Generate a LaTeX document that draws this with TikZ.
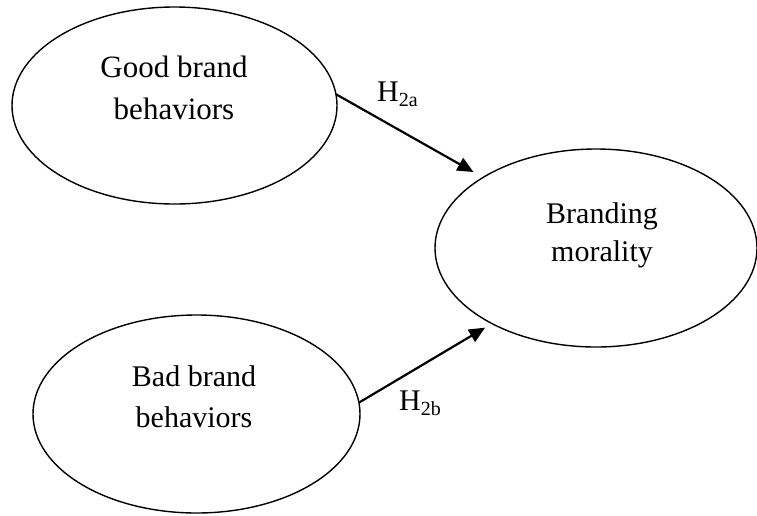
\documentclass[tikz,border=0pt]{standalone}
\usepackage{fontspec}
\setmainfont{Liberation Serif}
\usetikzlibrary{shapes.geometric,arrows.meta}
\begin{document}
\begin{tikzpicture}[x=1pt,y=-1pt,
  oval/.style={ellipse,draw,line width=1.4pt,inner sep=0pt,outer sep=0pt},
  txt/.style={align=center,inner sep=0pt},
  conn/.style={line width=2.2pt,-{Triangle[length=16pt,width=14pt]}},
  hlab/.style={anchor=base west,inner sep=0pt,font=\fontsize{30}{30}\selectfont}]
\useasboundingbox (0,0) rectangle (757,515);
\node[oval,minimum width=325pt,minimum height=197pt] (good) at (174.5,105.5) {};
\node[oval,minimum width=322pt,minimum height=198pt] (brand) at (596,248) {};
\node[oval,minimum width=327pt,minimum height=198pt] (bad) at (196.5,414) {};
\node[txt,font=\fontsize{31}{42}\selectfont] (goodt) at (174,87.7) {Good brand\\behaviors};
\node[txt,font=\fontsize{30}{38.4}\selectfont] (brandt) at (602,235.5) {Branding\\morality};
\node[txt,font=\fontsize{30}{41}\selectfont] (badt) at (194,397.1) {Bad brand\\behaviors};
\draw[conn,shorten >=11pt] (good.4.4) -- (brand.148.1);
\draw[conn,shorten >=8pt] (bad.4.2) -- (brand.216.6);
\node[hlab] (h2a) at (377,101.7) {H\raisebox{-5pt}{\fontsize{20}{20}\selectfont 2a}};
\node[hlab] (h2b) at (399,410) {H\raisebox{-5pt}{\fontsize{20}{20}\selectfont 2b}};
\end{tikzpicture}
\end{document}
